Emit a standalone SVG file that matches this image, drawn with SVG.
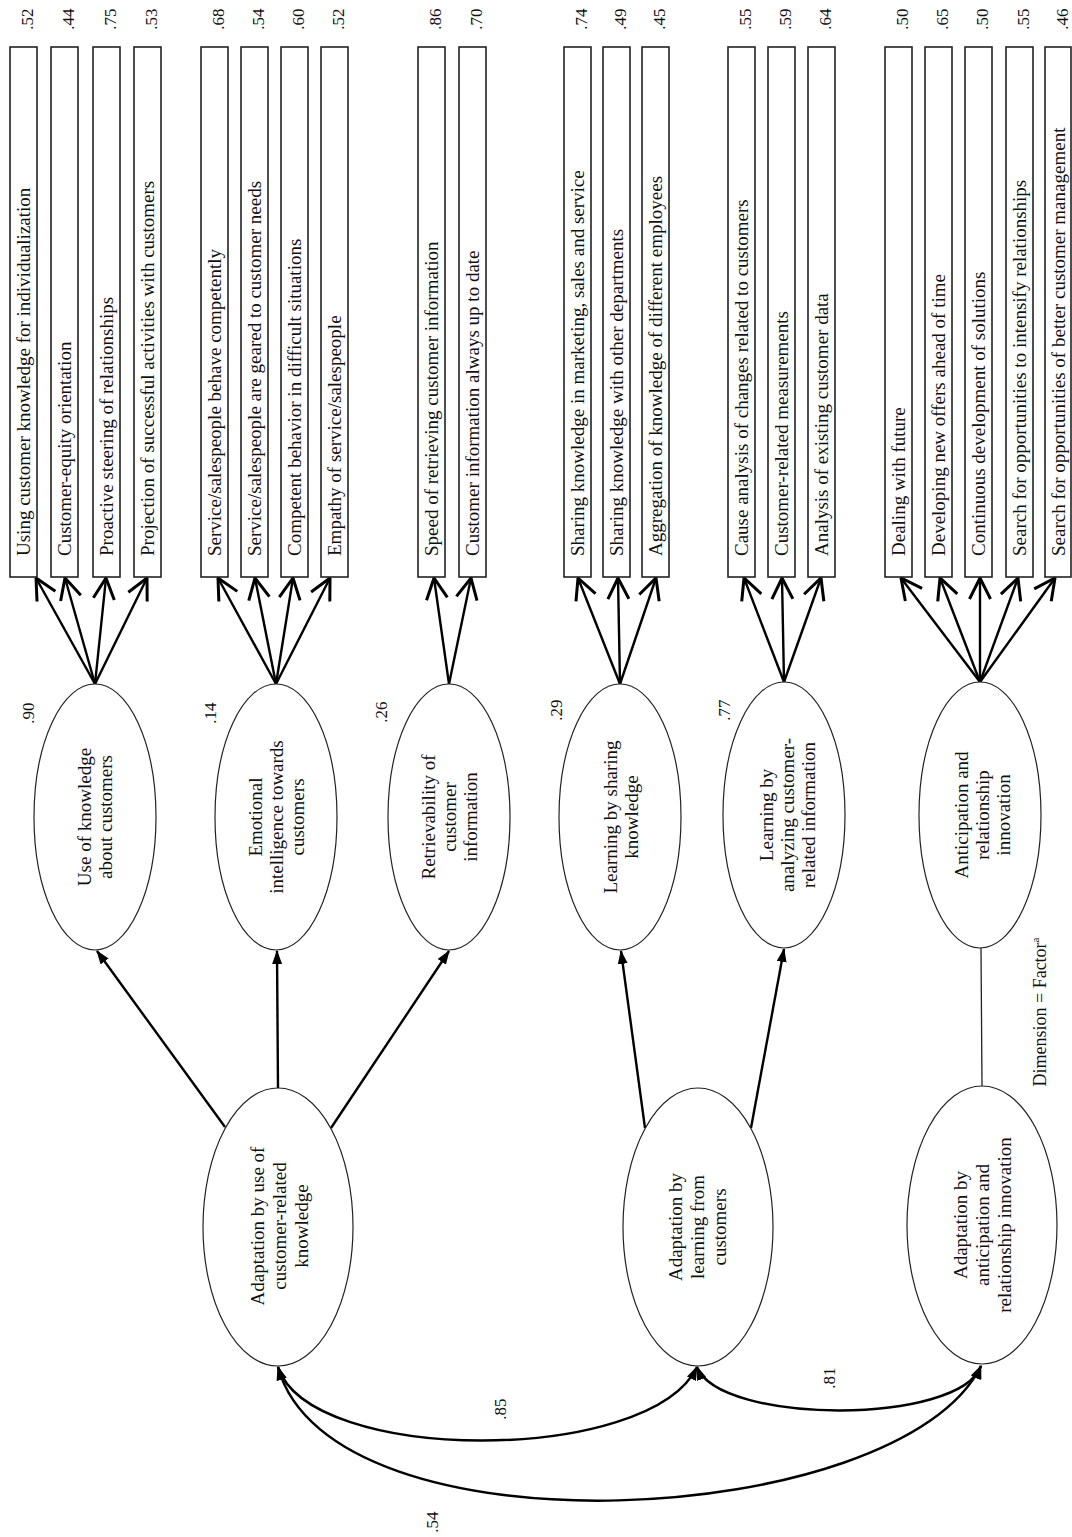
<svg xmlns="http://www.w3.org/2000/svg" width="1072" height="1537" viewBox="0 0 1072 1537">
<style>
.box{fill:#fff;stroke:#222;stroke-width:1.6}
.ell{fill:#fff;stroke:#222;stroke-width:1.2}
text{font-family:"Liberation Serif","Times New Roman",serif;fill:#111}
.bt{font-size:19px}
.et{font-size:19px;text-anchor:middle}
.val{font-size:17px;text-anchor:middle}
.ind{stroke:#000;stroke-width:2.4;fill:none;marker-end:url(#open)}
.sec{stroke:#000;stroke-width:2.4;fill:none;marker-end:url(#fill)}
.cov{stroke:#000;stroke-width:2.5;fill:none;marker-start:url(#fill);marker-end:url(#fill)}
.plain{stroke:#222;stroke-width:1.3;fill:none}
</style>
<defs>
<marker id="open" viewBox="0 0 24 24" refX="23" refY="12" markerWidth="24" markerHeight="24" markerUnits="userSpaceOnUse" orient="auto">
<path d="M2,1.5 L23,12 L2,22.5" fill="none" stroke="#000" stroke-width="3"/>
</marker>
<marker id="fill" viewBox="0 0 14 10" refX="13" refY="5" markerWidth="14" markerHeight="10" markerUnits="userSpaceOnUse" orient="auto-start-reverse">
<path d="M0,0 L14,5 L0,10 z" fill="#000"/>
</marker>
</defs>
<rect x="0" y="0" width="1072" height="1537" fill="#fff"/>

<g id="connectors">
<line class="ind" x1="95" y1="684" x2="36" y2="578"/>
<line class="ind" x1="95" y1="684" x2="65" y2="578"/>
<line class="ind" x1="95" y1="684" x2="106" y2="578"/>
<line class="ind" x1="95" y1="684" x2="147" y2="578"/>
<line class="ind" x1="276" y1="684" x2="218" y2="578"/>
<line class="ind" x1="276" y1="684" x2="255" y2="578"/>
<line class="ind" x1="276" y1="684" x2="293" y2="578"/>
<line class="ind" x1="276" y1="684" x2="330" y2="578"/>
<line class="ind" x1="449" y1="684" x2="434" y2="578"/>
<line class="ind" x1="449" y1="684" x2="471" y2="578"/>
<line class="ind" x1="620" y1="684" x2="578" y2="578"/>
<line class="ind" x1="620" y1="684" x2="618" y2="578"/>
<line class="ind" x1="620" y1="684" x2="656" y2="578"/>
<line class="ind" x1="784" y1="682" x2="744" y2="578"/>
<line class="ind" x1="784" y1="682" x2="782" y2="578"/>
<line class="ind" x1="784" y1="682" x2="821" y2="578"/>
<line class="ind" x1="980" y1="682" x2="901" y2="578"/>
<line class="ind" x1="980" y1="682" x2="940" y2="578"/>
<line class="ind" x1="980" y1="682" x2="980" y2="578"/>
<line class="ind" x1="980" y1="682" x2="1018" y2="578"/>
<line class="ind" x1="980" y1="682" x2="1055" y2="578"/>
<line class="sec" x1="225" y1="1127" x2="97" y2="951"/>
<line class="sec" x1="278" y1="1088" x2="277" y2="951"/>
<line class="sec" x1="331" y1="1128" x2="449" y2="951"/>
<line class="sec" x1="645" y1="1128" x2="621" y2="951"/>
<line class="sec" x1="751" y1="1128" x2="784" y2="949"/>
<line class="plain" x1="981" y1="948" x2="982" y2="1086"/>
<path class="cov" d="M278,1367 C310,1465 650,1465 697,1367"/>
<path class="cov" d="M697,1367 C720,1425 960,1425 981,1366"/>
<path class="cov" d="M278,1367 C330,1560 900,1530 981,1366"/>
<text class="val" transform="translate(500,1409) rotate(-90)" y="5.5">.85</text>
<text class="val" transform="translate(829,1378) rotate(-90)" y="5.5">.81</text>
<text class="val" transform="translate(432,1522) rotate(-90)" y="5.5">.54</text>
</g>

<g id="ind-1"><rect class="box" x="10" y="47" width="27" height="530"/><text class="bt" transform="translate(23.5,556) rotate(-90)" y="6">Using customer knowledge for individualization</text><text class="val" transform="translate(27,19) rotate(-90)" y="5.5">.52</text></g>
<g id="ind-2"><rect class="box" x="51" y="47" width="27" height="530"/><text class="bt" transform="translate(64.5,556) rotate(-90)" y="6">Customer-equity orientation</text><text class="val" transform="translate(68,19) rotate(-90)" y="5.5">.44</text></g>
<g id="ind-3"><rect class="box" x="93" y="47" width="27" height="530"/><text class="bt" transform="translate(106.5,556) rotate(-90)" y="6">Proactive steering of relationships</text><text class="val" transform="translate(110,19) rotate(-90)" y="5.5">.75</text></g>
<g id="ind-4"><rect class="box" x="134" y="47" width="27" height="530"/><text class="bt" transform="translate(147.5,556) rotate(-90)" y="6">Projection of successful activities with customers</text><text class="val" transform="translate(151,19) rotate(-90)" y="5.5">.53</text></g>

<g id="ind-5"><rect class="box" x="201" y="47" width="27" height="530"/><text class="bt" transform="translate(214.5,556) rotate(-90)" y="6">Service/salespeople behave competently</text><text class="val" transform="translate(218,19) rotate(-90)" y="5.5">.68</text></g>
<g id="ind-6"><rect class="box" x="241" y="47" width="27" height="530"/><text class="bt" transform="translate(254.5,556) rotate(-90)" y="6">Service/salespeople are geared to customer needs</text><text class="val" transform="translate(258,19) rotate(-90)" y="5.5">.54</text></g>
<g id="ind-7"><rect class="box" x="281" y="47" width="27" height="530"/><text class="bt" transform="translate(294.5,556) rotate(-90)" y="6">Competent behavior in difficult situations</text><text class="val" transform="translate(298,19) rotate(-90)" y="5.5">.60</text></g>
<g id="ind-8"><rect class="box" x="321" y="47" width="27" height="530"/><text class="bt" transform="translate(334.5,556) rotate(-90)" y="6">Empathy of service/salespeople</text><text class="val" transform="translate(338,19) rotate(-90)" y="5.5">.52</text></g>

<g id="ind-9"><rect class="box" x="418" y="47" width="27" height="530"/><text class="bt" transform="translate(431.5,556) rotate(-90)" y="6">Speed of retrieving customer information</text><text class="val" transform="translate(435,19) rotate(-90)" y="5.5">.86</text></g>
<g id="ind-10"><rect class="box" x="459" y="47" width="27" height="530"/><text class="bt" transform="translate(472.5,556) rotate(-90)" y="6">Customer information always up to date</text><text class="val" transform="translate(476,19) rotate(-90)" y="5.5">.70</text></g>

<g id="ind-11"><rect class="box" x="564" y="47" width="27" height="530"/><text class="bt" transform="translate(577.5,556) rotate(-90)" y="6">Sharing knowledge in marketing, sales and service</text><text class="val" transform="translate(581,19) rotate(-90)" y="5.5">.74</text></g>
<g id="ind-12"><rect class="box" x="603" y="47" width="27" height="530"/><text class="bt" transform="translate(616.5,556) rotate(-90)" y="6">Sharing knowledge with other departments</text><text class="val" transform="translate(620,19) rotate(-90)" y="5.5">.49</text></g>
<g id="ind-13"><rect class="box" x="642" y="47" width="27" height="530"/><text class="bt" transform="translate(655.5,556) rotate(-90)" y="6">Aggregation of knowledge of different employees</text><text class="val" transform="translate(659,19) rotate(-90)" y="5.5">.45</text></g>

<g id="ind-14"><rect class="box" x="728" y="47" width="27" height="530"/><text class="bt" transform="translate(741.5,556) rotate(-90)" y="6">Cause analysis of changes related to customers</text><text class="val" transform="translate(745,19) rotate(-90)" y="5.5">.55</text></g>
<g id="ind-15"><rect class="box" x="768" y="47" width="27" height="530"/><text class="bt" transform="translate(781.5,556) rotate(-90)" y="6">Customer-related measurements</text><text class="val" transform="translate(785,19) rotate(-90)" y="5.5">.59</text></g>
<g id="ind-16"><rect class="box" x="808" y="47" width="27" height="530"/><text class="bt" transform="translate(821.5,556) rotate(-90)" y="6">Analysis of existing customer data</text><text class="val" transform="translate(825,19) rotate(-90)" y="5.5">.64</text></g>

<g id="ind-17"><rect class="box" x="885" y="47" width="27" height="530"/><text class="bt" transform="translate(898.5,556) rotate(-90)" y="6">Dealing with future</text><text class="val" transform="translate(902,19) rotate(-90)" y="5.5">.50</text></g>
<g id="ind-18"><rect class="box" x="925" y="47" width="27" height="530"/><text class="bt" transform="translate(938.5,556) rotate(-90)" y="6">Developing new offers ahead of time</text><text class="val" transform="translate(942,19) rotate(-90)" y="5.5">.65</text></g>
<g id="ind-19"><rect class="box" x="965" y="47" width="27" height="530"/><text class="bt" transform="translate(978.5,556) rotate(-90)" y="6">Continuous development of solutions</text><text class="val" transform="translate(982,19) rotate(-90)" y="5.5">.50</text></g>
<g id="ind-20"><rect class="box" x="1006" y="47" width="27" height="530"/><text class="bt" transform="translate(1019.5,556) rotate(-90)" y="6">Search for opportunities to intensify relationships</text><text class="val" transform="translate(1023,19) rotate(-90)" y="5.5">.55</text></g>
<g id="ind-21"><rect class="box" x="1045" y="47" width="26" height="530"/><text class="bt" transform="translate(1058.5,556) rotate(-90)" y="6">Search for opportunities of better customer management</text><text class="val" transform="translate(1062,19) rotate(-90)" y="5.5">.46</text></g>

<g id="factor-1"><ellipse class="ell" cx="95" cy="817" rx="61" ry="133"/><text class="et" transform="translate(95,817) rotate(-90)"><tspan x="0" y="-4">Use of knowledge</tspan><tspan x="0" y="17">about customers</tspan></text><text class="val" transform="translate(28,713) rotate(-90)" y="5.5">.90</text></g>
<g id="factor-2"><ellipse class="ell" cx="276" cy="817" rx="61" ry="133"/><text class="et" transform="translate(276,817) rotate(-90)"><tspan x="0" y="-14.5">Emotional</tspan><tspan x="0" y="6.5">intelligence towards</tspan><tspan x="0" y="27.5">customers</tspan></text><text class="val" transform="translate(210,713) rotate(-90)" y="5.5">.14</text></g>
<g id="factor-3"><ellipse class="ell" cx="449" cy="817" rx="61" ry="133"/><text class="et" transform="translate(449,817) rotate(-90)"><tspan x="0" y="-14.5">Retrievability of</tspan><tspan x="0" y="6.5">customer</tspan><tspan x="0" y="27.5">information</tspan></text><text class="val" transform="translate(381,712) rotate(-90)" y="5.5">.26</text></g>
<g id="factor-4"><ellipse class="ell" cx="620" cy="817" rx="61" ry="133"/><text class="et" transform="translate(621,817) rotate(-90)"><tspan x="0" y="-4">Learning by sharing</tspan><tspan x="0" y="17">knowledge</tspan></text><text class="val" transform="translate(556,710) rotate(-90)" y="5.5">.29</text></g>
<g id="factor-5"><ellipse class="ell" cx="784" cy="815" rx="61" ry="133"/><text class="et" transform="translate(787,815) rotate(-90)"><tspan x="0" y="-14.5">Learning by</tspan><tspan x="0" y="6.5">analyzing customer-</tspan><tspan x="0" y="27.5">related information</tspan></text><text class="val" transform="translate(724,710) rotate(-90)" y="5.5">.77</text></g>
<g id="factor-6"><ellipse class="ell" cx="980" cy="815" rx="61" ry="133"/><text class="et" transform="translate(982,815) rotate(-90)"><tspan x="0" y="-14.5">Anticipation and</tspan><tspan x="0" y="6.5">relationship</tspan><tspan x="0" y="27.5">innovation</tspan></text></g>

<g id="dim-1"><ellipse class="ell" cx="278" cy="1227" rx="75" ry="139"/><text class="et" transform="translate(279,1226) rotate(-90)"><tspan x="0" y="-15.5">Adaptation by use of</tspan><tspan x="0" y="6.5">customer-related</tspan><tspan x="0" y="28.5">knowledge</tspan></text></g>
<g id="dim-2"><ellipse class="ell" cx="698" cy="1227" rx="75" ry="139"/><text class="et" transform="translate(697,1227) rotate(-90)"><tspan x="0" y="-15.5">Adaptation by</tspan><tspan x="0" y="6.5">learning from</tspan><tspan x="0" y="28.5">customers</tspan></text></g>
<g id="dim-3"><ellipse class="ell" cx="982" cy="1225" rx="75" ry="139"/><text class="et" transform="translate(982,1225) rotate(-90)"><tspan x="0" y="-15.5">Adaptation by</tspan><tspan x="0" y="6.5">anticipation and</tspan><tspan x="0" y="28.5">relationship innovation</tspan></text></g>

<g id="note"><text class="bt" style="font-size:18px;text-anchor:middle" transform="translate(1040,1012) rotate(-90)" y="6">Dimension = Factor<tspan style="font-size:11px" dy="-7">a</tspan></text></g>
</svg>
